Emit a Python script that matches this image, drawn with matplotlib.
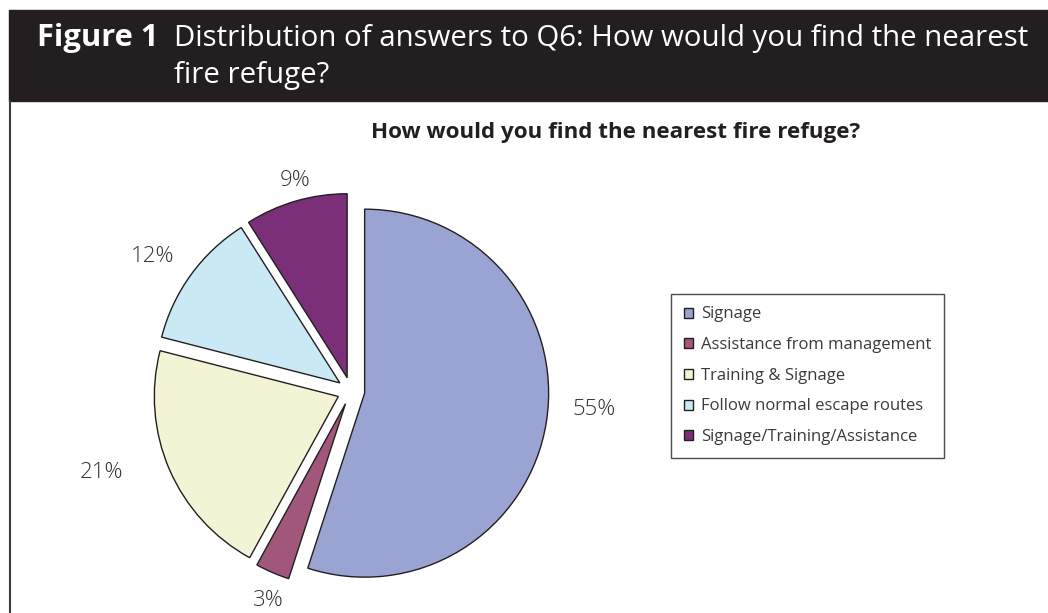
import numpy as np
import matplotlib
matplotlib.use("Agg")
import matplotlib.pyplot as plt
from matplotlib import font_manager
from matplotlib.patches import Rectangle
from matplotlib.lines import Line2D

# answers to Q6, percent of respondents
answers = ["Signage", "Assistance from management", "Training & Signage",
           "Follow normal escape routes", "Signage/Training/Assistance"]
shares = [55, 3, 21, 12, 9]
colors = ["#99a4d2", "#a0577b", "#f3f3d6", "#c9e9f5", "#7b2f79"]

chart_title = "How would you find the nearest fire refuge?"
fig_label = "Figure 1"
fig_caption = ["Distribution of answers to Q6: How would you find the nearest",
               "fire refuge?"]

# label placement: distance from wedge centre (radii) and angle nudge (deg)
label_dist = [1.25, 1.15, 1.35, 1.23, 1.11]
label_nudge = [5, 2, -5.5, 2, -1.3]

W, H = 1048, 613
dark = "#231f20"


def pick(*names):
    have = {f.name for f in font_manager.fontManager.ttflist}
    for n in names:
        if n in have:
            return n
    return "DejaVu Sans"


narrow = pick("Liberation Sans Narrow", "Open Sans")
body = pick("Open Sans", "Noto Sans")

fig = plt.figure(figsize=(W / 100, H / 100), dpi=100)
fig.patch.set_facecolor("white")


def fx(px):
    return px / W


def fy(py):
    return 1 - py / H


# header bar and left rule
fig.patches.append(Rectangle((fx(9), fy(101)), fx(W - 9), 91 / H,
                             transform=fig.transFigure, color=dark, zorder=0))
fig.lines.append(Line2D([fx(10), fx(10)], [0, fy(101)], transform=fig.transFigure,
                        color="#3a3a3a", lw=1.5))

renderer = fig.canvas.get_renderer()


def fit(t, width_px):
    w = t.get_window_extent(renderer).width
    t.set_fontsize(t.get_fontsize() * width_px / w)


t1 = fig.text(fx(37), fy(46), fig_label, color="white", fontsize=22,
              fontweight="bold", family=narrow, va="baseline")
fit(t1, 121)
t2 = fig.text(fx(174), fy(46), fig_caption[0], color="white", fontsize=22,
              family=narrow, va="baseline")
fit(t2, 852)
fig.text(fx(174), fy(83), fig_caption[1], color="white", fontsize=t2.get_fontsize(),
         family=narrow, va="baseline")

tt = fig.text(fx(616), fy(132), chart_title, color=dark, fontsize=14,
              fontweight="bold", family=body, ha="center", va="center")
fit(tt, 492)

# pie: centre (351, 391) px, radius 184 px
cx, cy, r = 351, 391, 184
lim = 1.2
half = lim * r
ax = fig.add_axes([fx(cx - half), fy(cy + half), 2 * half / W, 2 * half / H])
wedges, _ = ax.pie(shares, colors=colors, startangle=90, counterclock=False,
                   explode=[0.075] * len(shares),
                   wedgeprops=dict(edgecolor=dark, linewidth=1.0))
ax.set_xlim(-lim, lim)
ax.set_ylim(-lim, lim)
ax.set_aspect("equal")
ax.axis("off")

for w, v, d, n in zip(wedges, shares, label_dist, label_nudge):
    mid = np.deg2rad((w.theta1 + w.theta2) / 2 + n)
    x0, y0 = w.center
    ax.text(x0 + d * np.cos(mid), y0 + d * np.sin(mid), f"{v}%",
            ha="center", va="center", fontsize=16, color="#333333",
            family=body, fontweight="light", clip_on=False)

leg = fig.legend(wedges, answers, loc="upper left",
                 bbox_to_anchor=(fx(671), fy(294)), frameon=True, fancybox=False,
                 edgecolor=dark, handlelength=0.55, handleheight=0.55,
                 handletextpad=0.5, labelspacing=0.88, borderpad=0.75,
                 borderaxespad=0, prop=dict(family=body, size=12))
leg.get_frame().set_linewidth(1.0)
for t in leg.get_texts():
    t.set_color("#3a3a3a")

fig.savefig("out.png", dpi=100)
